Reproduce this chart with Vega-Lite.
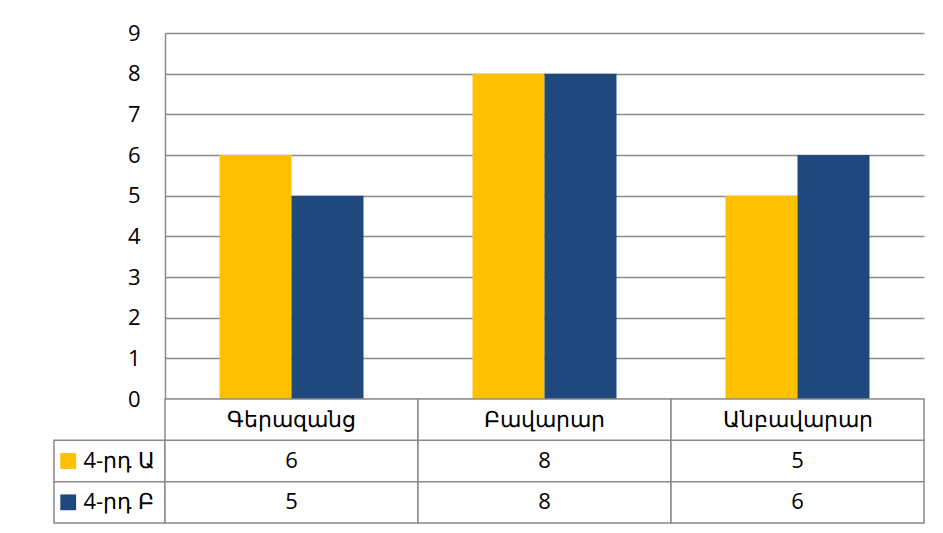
{
  "$schema": "https://vega.github.io/schema/vega-lite/v6.json",
  "padding": {"left": 53, "top": 22, "right": 0, "bottom": 0},
  "background": "white",
  "config": {"view": {"stroke": null}, "font": "Open Sans", "text": {"font": "Open Sans"}},
  "datasets": {
    "scores": [
      {"cat": "Գերազանց", "series": "4-րդ Ա", "value": 6},
      {"cat": "Գերազանց", "series": "4-րդ Բ", "value": 5},
      {"cat": "Բավարար", "series": "4-րդ Ա", "value": 8},
      {"cat": "Բավարար", "series": "4-րդ Բ", "value": 8},
      {"cat": "Անբավարար", "series": "4-րդ Ա", "value": 5},
      {"cat": "Անբավարար", "series": "4-րդ Բ", "value": 6}
    ]
  },
  "columns": 2,
  "spacing": 0,
  "bounds": "flush",
  "align": "each",
  "resolve": {"scale": {"x": "independent", "y": "independent", "color": "independent", "xOffset": "independent"}},
  "concat": [
    {
      "width": 111,
      "height": 366,
      "data": {"name": "scores"},
      "mark": {"type": "text"},
      "encoding": {"text": {"value": ""}}
    },
    {
      "width": 759,
      "height": 366,
      "data": {"name": "scores"},
      "mark": {"type": "bar", "strokeWidth": 0},
      "encoding": {
        "x": {"field": "cat", "type": "nominal", "scale": {"domain": ["Գերազանց", "Բավարար", "Անբավարար"], "paddingInner": 0, "paddingOuter": 0}, "axis": null},
        "xOffset": {"field": "series", "type": "nominal", "scale": {"domain": ["4-րդ Ա", "4-րդ Բ"], "paddingInner": 0, "paddingOuter": 0.757}},
        "y": {
          "field": "value", "type": "quantitative",
          "scale": {"domain": [0, 9], "nice": false},
          "axis": {
            "values": [0, 1, 2, 3, 4, 5, 6, 7, 8, 9], "title": null, "grid": true,
            "gridColor": "#8a8a8a", "gridWidth": 1.5, "domainColor": "#8a8a8a", "domainWidth": 1.5,
            "ticks": false, "labelPadding": 25, "labelFontSize": 22, "labelColor": "#000000", "labelFont": "Open Sans"
          }
        },
        "color": {"field": "series", "type": "nominal", "scale": {"domain": ["4-րդ Ա", "4-րդ Բ"], "range": ["#FFC000", "#1F497D"]}, "legend": null}
      }
    },
    {
      "width": 111,
      "height": 124,
      "data": {"name": "scores"},
      "transform": [{"aggregate": [{"op": "count", "as": "n"}], "groupby": ["series"]}],
      "encoding": {
        "y": {"field": "series", "type": "nominal", "scale": {"domain": ["hdr", "4-րդ Ա", "4-րդ Բ"], "paddingInner": 0, "paddingOuter": 0}, "axis": null}
      },
      "layer": [
        {"mark": {"type": "rect", "fill": "white", "stroke": "#8a8a8a", "strokeWidth": 1.5}},
        {
          "mark": {"type": "point", "shape": "square", "filled": true, "size": 250, "opacity": 1},
          "encoding": {
            "x": {"datum": "k", "type": "ordinal", "scale": {"type": "point", "domain": ["k", "t"], "padding": 4.125, "align": 0.192}, "axis": null},
            "color": {"field": "series", "type": "nominal", "scale": {"domain": ["4-րդ Ա", "4-րդ Բ"], "range": ["#FFC000", "#1F497D"]}, "legend": null}
          }
        }
      ]
    },
    {
      "width": 759,
      "height": 124,
      "data": {"name": "scores"},
      "layer": [
        {
          "mark": {"type": "rect", "fill": "white", "stroke": "#8a8a8a", "strokeWidth": 1.5},
          "encoding": {
            "x": {"field": "cat", "type": "nominal", "scale": {"domain": ["Գերազանց", "Բավարար", "Անբավարար"], "paddingInner": 0, "paddingOuter": 0}, "axis": null},
            "y": {
              "field": "series", "type": "nominal",
              "scale": {"domain": ["hdr", "4-րդ Ա", "4-րդ Բ"], "paddingInner": 0, "paddingOuter": 0},
              "axis": {
                "title": null, "domain": false, "ticks": false, "grid": false,
                "labelExpr": "datum.value == 'hdr' ? '' : datum.value",
                "labelAlign": "left", "labelPadding": 82, "labelFontSize": 22, "labelColor": "#000000", "labelFont": "Open Sans"
              }
            }
          }
        },
        {
          "transform": [{"aggregate": [{"op": "count", "as": "n"}], "groupby": ["cat"]}],
          "mark": {"type": "rect", "fill": "white", "stroke": "#8a8a8a", "strokeWidth": 1.5},
          "encoding": {
            "x": {"field": "cat", "type": "nominal"},
            "y": {"datum": "hdr", "type": "nominal"}
          }
        },
        {
          "mark": {"type": "text", "fontSize": 22, "baseline": "middle", "color": "#000000"},
          "encoding": {
            "x": {"field": "cat", "type": "nominal"},
            "y": {"field": "series", "type": "nominal"},
            "text": {"field": "value", "type": "quantitative"}
          }
        },
        {
          "transform": [{"aggregate": [{"op": "count", "as": "n"}], "groupby": ["cat"]}],
          "mark": {"type": "text", "fontSize": 22, "baseline": "middle", "color": "#000000"},
          "encoding": {
            "x": {"field": "cat", "type": "nominal"},
            "y": {"datum": "hdr", "type": "nominal"},
            "text": {"field": "cat"}
          }
        }
      ]
    }
  ]
}
